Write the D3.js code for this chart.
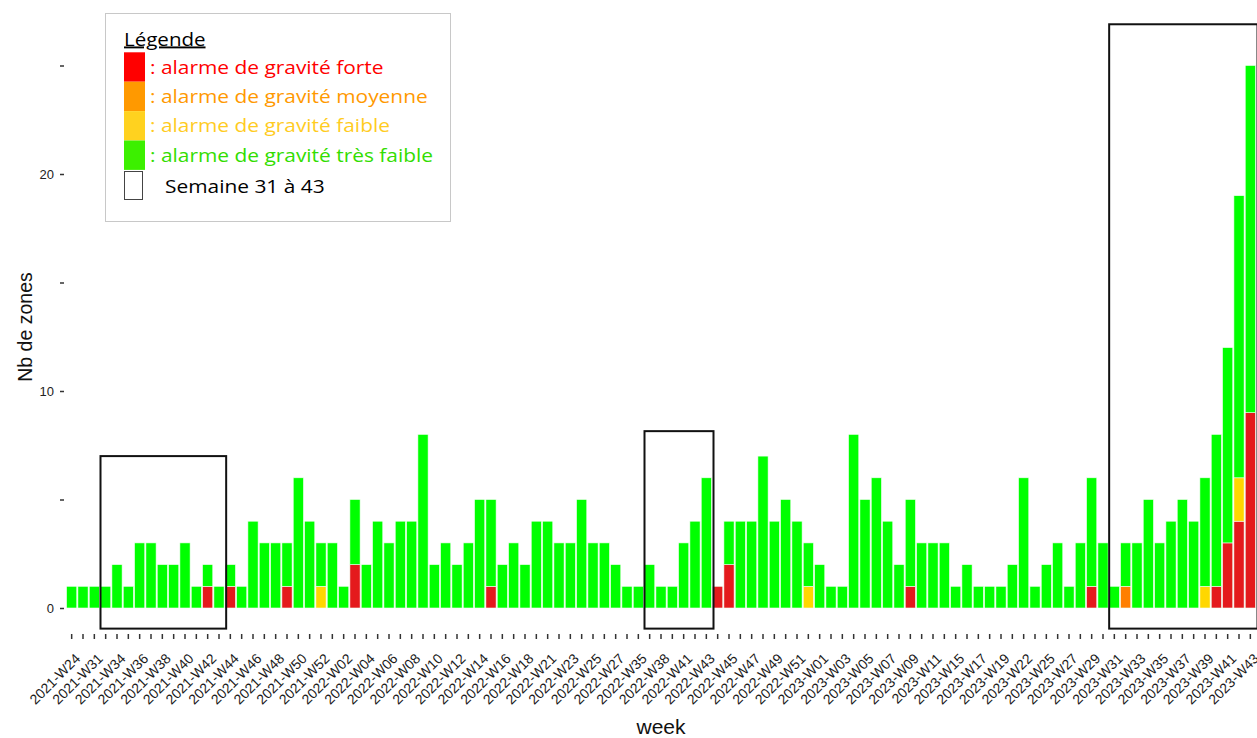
<!DOCTYPE html>
<meta charset="utf-8">
<script src="https://d3js.org/d3.v7.min.js"></script>
<style>
  body { margin: 0; background: #fff; }
  svg { display: block; }
  svg text { font-family: "Liberation Sans", Arial, sans-serif; }
  svg .legend text { font-family: "Open Sans", sans-serif; }
</style>
<div id="chart"></div>
<script>

// weeks (only every other one gets a label on the axis)
var weeks = [
  "2021-W24","2021-W30","2021-W31","2021-W32","2021-W34","2021-W35","2021-W36","2021-W37","2021-W38","2021-W39",
  "2021-W40","2021-W41","2021-W42","2021-W43","2021-W44","2021-W45","2021-W46","2021-W47","2021-W48","2021-W49",
  "2021-W50","2021-W51","2021-W52",
  "2022-W01","2022-W02","2022-W03","2022-W04","2022-W05","2022-W06","2022-W07","2022-W08","2022-W09","2022-W10",
  "2022-W11","2022-W12","2022-W13","2022-W14","2022-W15","2022-W16","2022-W17","2022-W18","2022-W20","2022-W21",
  "2022-W22","2022-W23","2022-W24","2022-W25","2022-W26","2022-W27","2022-W32","2022-W35","2022-W37","2022-W38",
  "2022-W40","2022-W41","2022-W42","2022-W43","2022-W44","2022-W45","2022-W46","2022-W47","2022-W48","2022-W49",
  "2022-W50","2022-W51","2022-W52",
  "2023-W01","2023-W02","2023-W03","2023-W04","2023-W05","2023-W06","2023-W07","2023-W08","2023-W09","2023-W10",
  "2023-W11","2023-W13","2023-W15","2023-W16","2023-W17","2023-W18","2023-W19","2023-W20","2023-W22","2023-W24",
  "2023-W25","2023-W26","2023-W27","2023-W28","2023-W29","2023-W30","2023-W31","2023-W32","2023-W33","2023-W34",
  "2023-W35","2023-W36","2023-W37","2023-W38","2023-W39","2023-W40","2023-W41","2023-W42","2023-W43"
];

// number of zones per week and gravity level
var forte = [
  0,0,0,0,0,0,0,0,0,0, 0,0,1,0,1,0,0,0,0,1, 0,0,0,0,0,2,0,0,0,0,
  0,0,0,0,0,0,0,1,0,0, 0,0,0,0,0,0,0,0,0,0, 0,0,0,0,0,0,0,1,2,0,
  0,0,0,0,0,0,0,0,0,0, 0,0,0,0,1,0,0,0,0,0, 0,0,0,0,0,0,0,0,0,0,
  1,0,0,0,0,0,0,0,0,0, 0,1,3,4,9
];
var moyenne = [
  0,0,0,0,0,0,0,0,0,0, 0,0,0,0,0,0,0,0,0,0, 0,0,0,0,0,0,0,0,0,0,
  0,0,0,0,0,0,0,0,0,0, 0,0,0,0,0,0,0,0,0,0, 0,0,0,0,0,0,0,0,0,0,
  0,0,0,0,0,0,0,0,0,0, 0,0,0,0,0,0,0,0,0,0, 0,0,0,0,0,0,0,0,0,0,
  0,0,0,1,0,0,0,0,0,0, 0,0,0,0,0
];
var faible = [
  0,0,0,0,0,0,0,0,0,0, 0,0,0,0,0,0,0,0,0,0, 0,0,1,0,0,0,0,0,0,0,
  0,0,0,0,0,0,0,0,0,0, 0,0,0,0,0,0,0,0,0,0, 0,0,0,0,0,0,0,0,0,0,
  0,0,0,0,0,1,0,0,0,0, 0,0,0,0,0,0,0,0,0,0, 0,0,0,0,0,0,0,0,0,0,
  0,0,0,0,0,0,0,0,0,0, 1,0,0,2,0
];
var tresFaible = [
  1,1,1,1,2,1,3,3,2,2, 3,1,1,1,1,1,4,3,3,2, 6,4,2,3,1,3,2,4,3,4,
  4,8,2,3,2,3,5,4,2,3, 2,4,4,3,3,5,3,3,2,1, 1,2,1,1,3,4,6,0,2,4,
  4,7,4,5,4,2,2,1,1,8, 5,6,4,2,4,3,3,3,1,2, 1,1,1,2,6,1,2,3,1,3,
  5,3,1,2,3,5,3,4,5,4, 5,7,9,13,16
];

var levels = ["forte", "moyenne", "faible", "tresFaible"];
var barColors = ["#e41a1c", "#ff7f00", "#ffd700", "#00ff00"];

// "Semaine 31 à 43" frames
var boxFrom = ["2021-W32", "2022-W37", "2023-W31"];
var boxTo = ["2021-W43", "2022-W43", "2023-W43"];
var boxTop = [7, 8.15, 26.9];
var boxBottom = -0.95;

var width = 1257, height = 738;

var svg = d3.select("#chart").append("svg")
  .attr("width", width)
  .attr("height", height);

var x = d3.scaleBand()
  .domain(weeks)
  .range([66, 1256]);

var y = d3.scaleLinear()
  .domain([0, 20])
  .range([608, 174]);

// stack
var table = weeks.map(function (w, i) {
  return { week: w, forte: forte[i], moyenne: moyenne[i], faible: faible[i], tresFaible: tresFaible[i] };
});
var series = d3.stack().keys(levels)(table);

svg.append("g")
  .selectAll("g")
  .data(series)
  .enter().append("g")
  .attr("fill", function (d, i) { return barColors[i]; })
  .selectAll("rect")
  .data(function (d) { return d.filter(function (s) { return s[1] > s[0]; }); })
  .enter().append("rect")
  .attr("x", function (d) { return x(d.data.week) + x.step() * 0.05; })
  .attr("width", x.step() * 0.9)
  .attr("y", function (d) { return y(d[1]); })
  .attr("height", function (d) { return y(d[0]) - y(d[1]); })
  .attr("stroke", "#f2fff2")
  .attr("stroke-width", 0.6);

// frames
svg.append("g")
  .selectAll("rect")
  .data(boxFrom)
  .enter().append("rect")
  .attr("x", function (d) { return x(d) + 0.5; })
  .attr("width", function (d, i) { return x(boxTo[i]) + x.step() - x(d) + 1; })
  .attr("y", function (d, i) { return y(boxTop[i]); })
  .attr("height", function (d, i) { return y(boxBottom) - y(boxTop[i]); })
  .attr("fill", "none")
  .attr("stroke", "#111")
  .attr("stroke-width", 2);

// y axis
var yAxis = svg.append("g")
  .attr("transform", "translate(64,0)")
  .call(d3.axisLeft(y)
    .tickValues([0, 5, 10, 15, 20, 25])
    .tickSize(4)
    .tickPadding(6)
    .tickFormat(function (d) { return d % 10 === 0 ? d : ""; }));
yAxis.select(".domain").remove();
yAxis.selectAll("line").attr("stroke", "#333").attr("stroke-width", 1.5);
yAxis.selectAll("text").attr("fill", "#222").style("font-size", "13px");

// x axis
var xAxis = svg.append("g")
  .attr("transform", "translate(0,634)")
  .call(d3.axisBottom(x).tickSize(5).tickFormat(""));
xAxis.select(".domain").remove();
xAxis.selectAll("line").attr("stroke", "#333").attr("stroke-width", 1.5);

svg.append("g")
  .selectAll("text")
  .data(weeks.filter(function (d, i) { return i % 2 === 0; }))
  .enter().append("text")
  .attr("transform", function (d) {
    return "translate(" + (x(d) + x.bandwidth() / 2 + 6) + ",656) rotate(-45)";
  })
  .attr("text-anchor", "end")
  .attr("dy", "0.35em")
  .style("font-size", "14px")
  .attr("fill", "#1a1a1a")
  .text(function (d) { return d; });

// axis titles
svg.append("text")
  .attr("x", 661)
  .attr("y", 734)
  .attr("text-anchor", "middle")
  .style("font-size", "21px")
  .attr("fill", "#111")
  .text("week");

svg.append("text")
  .attr("transform", "translate(32,327) rotate(-90)")
  .attr("text-anchor", "middle")
  .style("font-size", "19.5px")
  .attr("fill", "#111")
  .text("Nb de zones");

// legend
var legendLabels = [": alarme de gravité forte", ": alarme de gravité moyenne",
  ": alarme de gravité faible", ": alarme de gravité très faible"];
var legendColors = ["#ff0000", "#ff9900", "#ffd21f", "#3cf000"];
var legendText = ["#ff0000", "#ff9900", "#ffcc1f", "#33dd00"];

var legend = svg.append("g").attr("class", "legend");

legend.append("rect")
  .attr("x", 105.5).attr("y", 13.5)
  .attr("width", 345).attr("height", 208)
  .attr("fill", "#fff")
  .attr("stroke", "#c8c8c8");

legend.append("text")
  .attr("transform", "translate(124,45.5) scale(1.08,1)")
  .style("font-size", "19px")
  .style("text-decoration", "underline")
  .attr("fill", "#000")
  .text("Légende");

legend.selectAll(".sw")
  .data(legendColors)
  .enter().append("rect")
  .attr("x", 124).attr("y", function (d, i) { return 52.3 + i * 29.4; })
  .attr("width", 21).attr("height", 29.4)
  .attr("fill", function (d) { return d; });

legend.selectAll(".lab")
  .data(legendLabels)
  .enter().append("text")
  .attr("transform", function (d, i) { return "translate(150," + (74 + i * 29.2) + ") scale(1.1,1)"; })
  .style("font-size", "19px")
  .attr("fill", function (d, i) { return legendText[i]; })
  .text(function (d) { return d; });

legend.append("rect")
  .attr("x", 124.5).attr("y", 171.5)
  .attr("width", 18).attr("height", 28)
  .attr("fill", "#fff")
  .attr("stroke", "#444");

legend.append("text")
  .attr("transform", "translate(165,192.5) scale(1.1,1)")
  .style("font-size", "19px")
  .attr("fill", "#000")
  .text("Semaine 31 à 43");

</script>
